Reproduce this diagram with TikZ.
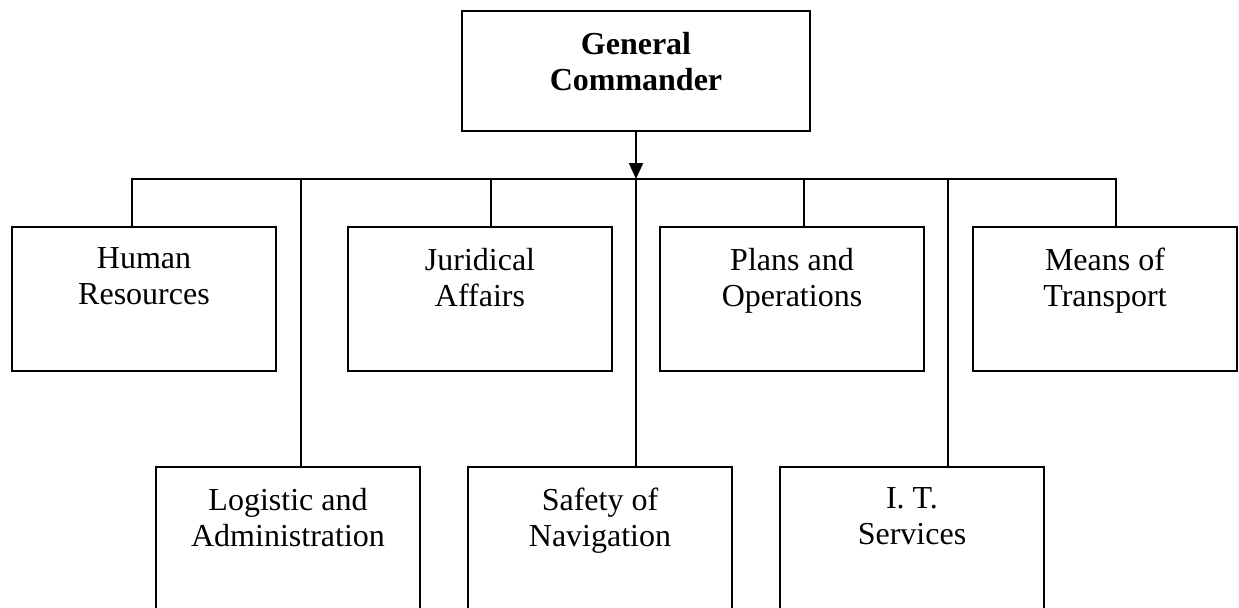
\documentclass[tikz,border=0pt]{standalone}
\usepackage{fontspec}
\setmainfont{Liberation Serif}
\usetikzlibrary{arrows.meta,calc}
\begin{document}
\begin{tikzpicture}[x=0.5pt,y=-0.5pt,
  unit/.style={draw, line width=1pt, minimum width=132pt, minimum height=72pt,
               inner sep=0pt, outer sep=0pt, anchor=north west},
  caption/.style={anchor=north, inner sep=0pt, align=center,
                  font=\fontsize{16}{18}\selectfont, yshift=-10.2pt},
  link/.style={line width=1pt}]
\useasboundingbox (0,0) rectangle (1239,607);

% head of the organisation
\node[unit, minimum width=174pt, minimum height=60pt] (gc) at (462,11) {};
\node[caption, font=\fontsize{16}{18}\selectfont\bfseries] (gct) at (gc.north) {General\\Commander};

% first row of departments
\node[unit] (hr)  at (12,227)  {};
\node[unit] (jur) at (348,227) {};
\node[unit] (pla) at (660,227) {};
\node[unit] (mea) at (973,227) {};
\node[caption] (hrt)  at (hr.north)  {Human\\Resources};
\node[caption] (jurt) at (jur.north) {Juridical\\Affairs};
\node[caption] (plat) at (pla.north) {Plans and\\Operations};
\node[caption] (meat) at (mea.north) {Means of\\Transport};

% second row of departments
\node[unit] (log) at (156,467) {};
\node[unit] (saf) at (468,467) {};
\node[unit] (its) at (780,467) {};
\node[caption] (logt) at (log.north) {Logistic and\\Administration};
\node[caption] (saft) at (saf.north) {Safety of\\Navigation};
\node[caption] (itst) at (its.north) {I. T.\\Services};

% distribution bus
\coordinate (b1) at (132,179);
\coordinate (b2) at (301,179);
\coordinate (b3) at (491,179);
\coordinate (b4) at (636,179);
\coordinate (b5) at (804,179);
\coordinate (b6) at (948,179);
\coordinate (b7) at (1116,179);

\draw[link, -{Triangle[width=7pt,length=8pt]}] (gc.south) -- (b4);
\draw[link] (b1 |- hr.north) -- (b1) -- (b7) -- (b7 |- mea.north);
\draw[link] (b2) -- (b2 |- log.north);
\draw[link] (b3) -- (b3 |- jur.north);
\draw[link] (b4) -- (b4 |- saf.north);
\draw[link] (b5) -- (b5 |- pla.north);
\draw[link] (b6) -- (b6 |- its.north);
\end{tikzpicture}
\end{document}
